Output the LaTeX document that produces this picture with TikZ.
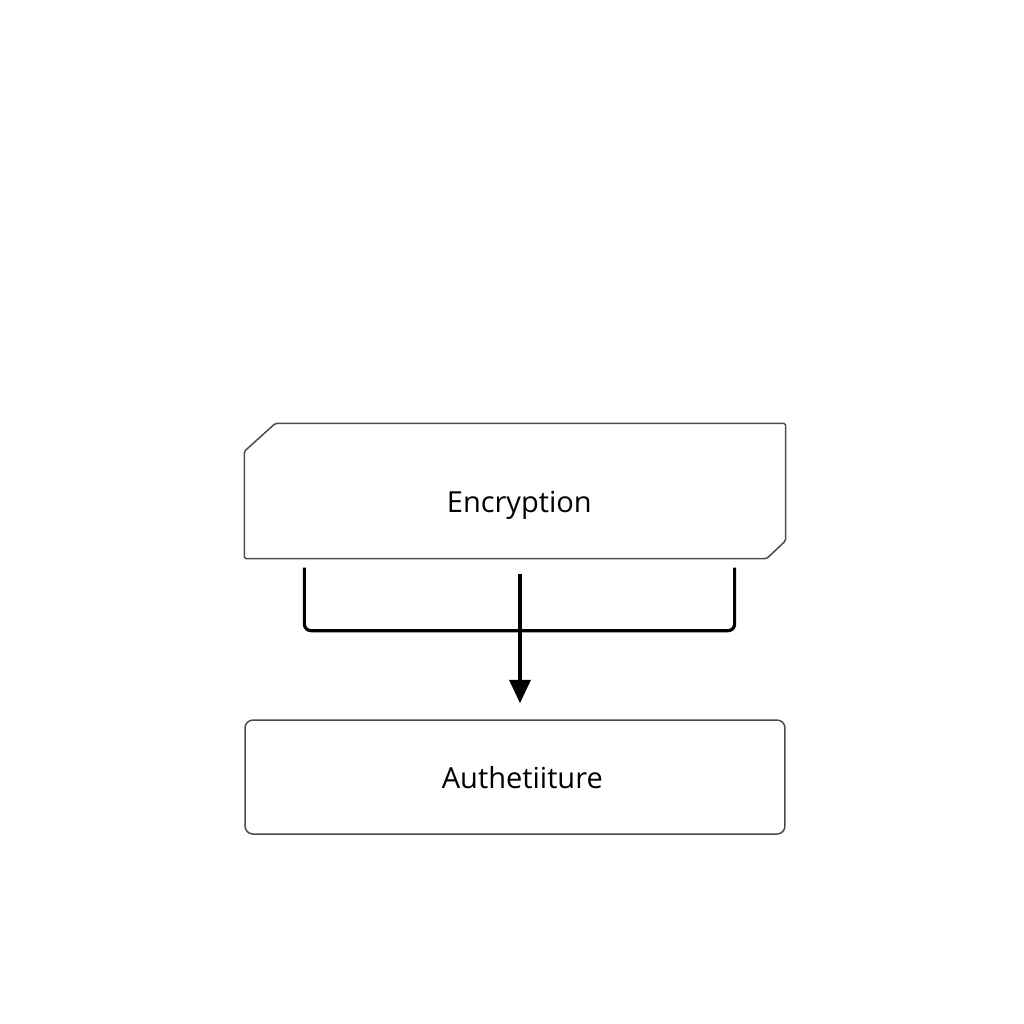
\documentclass[tikz,border=0pt]{standalone}
\usepackage{fontspec}
\setmainfont{Open Sans}
\usetikzlibrary{arrows.meta,calc,positioning}
\tikzset{
  stagebox/.style={rectangle, minimum width=162pt, minimum height=#1, inner sep=0pt},
  outline/.style={draw=black!70, line width=0.45pt},
  link/.style={draw=black, line width=0.95pt},
  flow/.style={link, -{Triangle[length=7pt,width=6.3pt]}},
  every label/.style={font=\fontsize{8.7}{10}\selectfont}
}

\begin{document}
\begin{tikzpicture}[x=0.3pt,y=-0.3pt]
	\useasboundingbox (0,0) rectangle (1024,1024);
	% the two stages
	\node[stagebox=40.2pt, label={[xshift=1.3pt,yshift=-4.4pt]center:Encryption}] (enc) at (515,491) {};
	\draw[outline, rounded corners=0.5pt] ($(enc.north west)+(0,28)$) -- ($(enc.north west)+(31,0)$)
		-- (enc.north east) -- ($(enc.south east)+(0,-18)$) -- ($(enc.south east)+(-19,0)$)
		-- (enc.south west) -- cycle;
	\node[stagebox=34.2pt, outline, rounded corners=2.4pt, label={[xshift=2.2pt,yshift=-0.3pt]center:Authetiiture}] (auth) at (515,777) {};
	% bracket and arrow between them
	\coordinate (bl) at ($(enc.south west)+(60,9)$);
	\coordinate (br) at ($(enc.south east)+(-51,9)$);
	\draw[link, rounded corners=2pt] (bl) -- ++(0,63) -| (br);
	\draw[flow] ($(enc.south)+(5,15)$) -- ($(auth.north)+(5,-16)$);
\end{tikzpicture}
\end{document}
